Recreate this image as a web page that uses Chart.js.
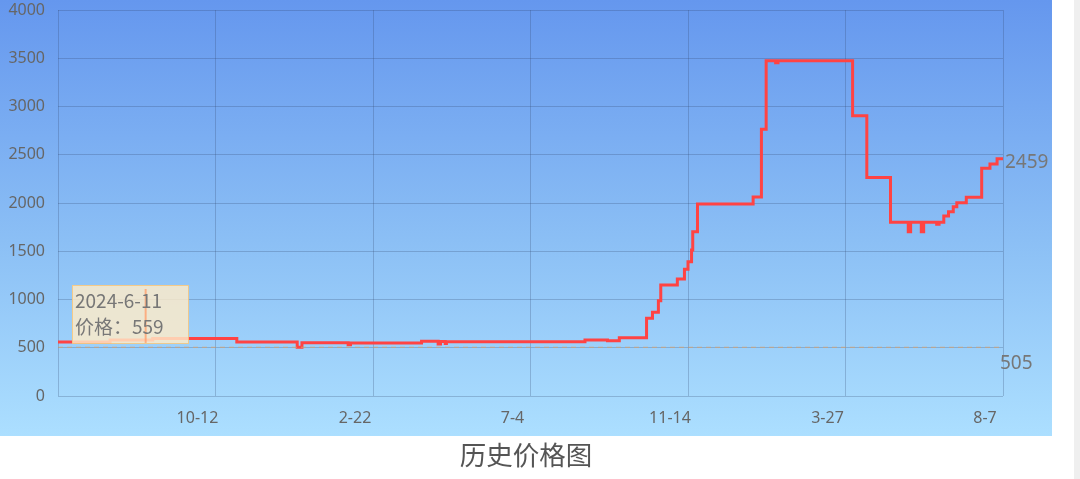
<!DOCTYPE html>
<html>
<head>
<meta charset="utf-8">
<script src="https://cdn.jsdelivr.net/npm/chart.js@4/dist/chart.umd.min.js"></script>
<style>
  body { margin: 0; background: #fff; font-family: "Noto Sans CJK SC", "Noto Sans", sans-serif; }
  #page { position: relative; width: 1080px; height: 479px; overflow: hidden; }
  #box {
    position: absolute; left: 0; top: 0; width: 1052px; height: 436px;
    background: linear-gradient(to bottom, #6597ee 0%, #8bbff5 55%, #acdfff 100%);
  }
  #title {
    position: absolute; left: 0; top: 435px; width: 1052px; text-align: center;
    font-size: 26.5px; color: #555; line-height: 38px;
  }
  #edge { position: absolute; left: 1074px; top: 0; width: 6px; height: 479px; background: #efefef; }
</style>
</head>
<body>
<div id="page">
  <div id="box"><canvas id="c" width="1052" height="436"></canvas></div>
  <div id="title">历史价格图</div>
  <div id="edge"></div>
</div>
<script>
// days since first record
const days = [0, 44, 80, 151, 202, 206, 245, 247, 307, 321, 323, 327, 328, 445, 464, 474,
  497, 502, 507, 509, 523, 529, 532, 535, 536, 540, 587, 594, 598, 606, 608, 671, 683,
  703, 718, 720, 729, 731, 742, 744, 748, 752, 756, 759, 767, 780, 787, 793, 798];
const prices = [560, 580, 597, 560, 505, 552, 532, 550, 567, 540, 565, 545, 563, 580, 573, 604,
  805, 867, 988, 1150, 1212, 1313, 1392, 1513, 1703, 1990, 2062, 2764, 3475, 3454, 3475, 2905, 2264,
  1800, 1703, 1800, 1703, 1800, 1780, 1800, 1865, 1910, 1962, 2003, 2059, 2360, 2404, 2459, 2459];
const tickDays = [0, 133, 266, 399, 532, 665, 798];
const tickLabels = ['', '10-12', '2-22', '7-4', '11-14', '3-27', '8-7'];
const tipDate = '2024-6-11';
const tipPrice = 559;
const tipDay = 74;

const points = days.map((d, i) => ({ x: d, y: prices[i] }));
const minPrice = Math.min(...prices);
const lastPrice = prices[prices.length - 1];

const gridColor = 'rgba(50,70,110,0.26)';
const textColor = '#666';

const extras = {
  id: 'extras',
  afterDatasetsDraw(chart) {
    const { ctx, chartArea, scales } = chart;
    const yMin = scales.y.getPixelForValue(minPrice);
    ctx.save();
    // min price marker
    ctx.strokeStyle = 'rgba(215,160,110,0.8)';
    ctx.lineWidth = 1;
    ctx.setLineDash([5, 4]);
    ctx.beginPath();
    ctx.moveTo(chartArea.left, yMin);
    ctx.lineTo(chartArea.right, yMin);
    ctx.stroke();
    ctx.setLineDash([]);
    ctx.font = '19px "Noto Sans", sans-serif';
    ctx.fillStyle = '#777';
    ctx.textBaseline = 'middle';
    ctx.fillText(String(minPrice), chartArea.right - 3, yMin + 16);
    // last price
    const yLast = scales.y.getPixelForValue(lastPrice);
    ctx.fillText(String(lastPrice), chartArea.right + 2, yLast + 4);

    // tooltip
    const tx = scales.x.getPixelForValue(tipDay);
    const bx = 72, by = 285, bw = 116, bh = 58;
    ctx.fillStyle = 'rgba(255,236,200,0.82)';
    ctx.strokeStyle = 'rgba(245,200,130,0.9)';
    ctx.fillRect(bx, by, bw, bh);
    ctx.strokeRect(bx + 0.5, by + 0.5, bw, bh);
    ctx.strokeStyle = 'rgba(255,160,110,0.8)';
    ctx.lineWidth = 2;
    ctx.beginPath();
    ctx.moveTo(tx, by + 4);
    ctx.lineTo(tx, by + bh);
    ctx.stroke();
    ctx.fillStyle = '#777';
    ctx.font = '19px "Noto Sans CJK SC", "Noto Sans", sans-serif';
    ctx.textBaseline = 'alphabetic';
    ctx.fillText(tipDate, bx + 3, by + 23);
    ctx.fillText('价格：' + tipPrice, bx + 3, by + 49);
    ctx.restore();
  }
};

new Chart(document.getElementById('c'), {
  type: 'line',
  data: {
    datasets: [{
      data: points,
      stepped: 'before',
      borderColor: '#ff4343',
      borderWidth: 3,
      pointRadius: 0,
      fill: false,
    }],
  },
  options: {
    responsive: false,
    animation: false,
    events: [],
    layout: { padding: { top: 10, right: 49, left: 0, bottom: 0 } },
    plugins: { legend: { display: false }, tooltip: { enabled: false } },
    scales: {
      x: {
        type: 'linear',
        min: 0,
        max: 798,
        afterBuildTicks(s) { s.ticks = tickDays.map((v) => ({ value: v })); },
        afterFit(s) { s.height = 40; },
        grid: { color: gridColor, drawTicks: false },
        border: { display: false },
        ticks: {
          padding: 13,
          labelOffset: -18,
          color: textColor,
          font: { size: 16, family: '"Noto Sans", sans-serif' },
          callback: (v) => tickLabels[tickDays.indexOf(v)],
          maxRotation: 0,
          autoSkip: false,
        },
      },
      y: {
        min: 0,
        max: 4000,
        afterFit(s) { s.width = 58; s.paddingTop = 0; s.paddingBottom = 0; },
        grid: { color: gridColor, drawTicks: false },
        border: { display: false },
        ticks: {
          stepSize: 500,
          padding: 13,
          color: textColor,
          font: { size: 16, family: '"Noto Sans", sans-serif' },
          callback: (v) => String(v),
        },
      },
    },
  },
  plugins: [extras],
});
</script>
</body>
</html>
